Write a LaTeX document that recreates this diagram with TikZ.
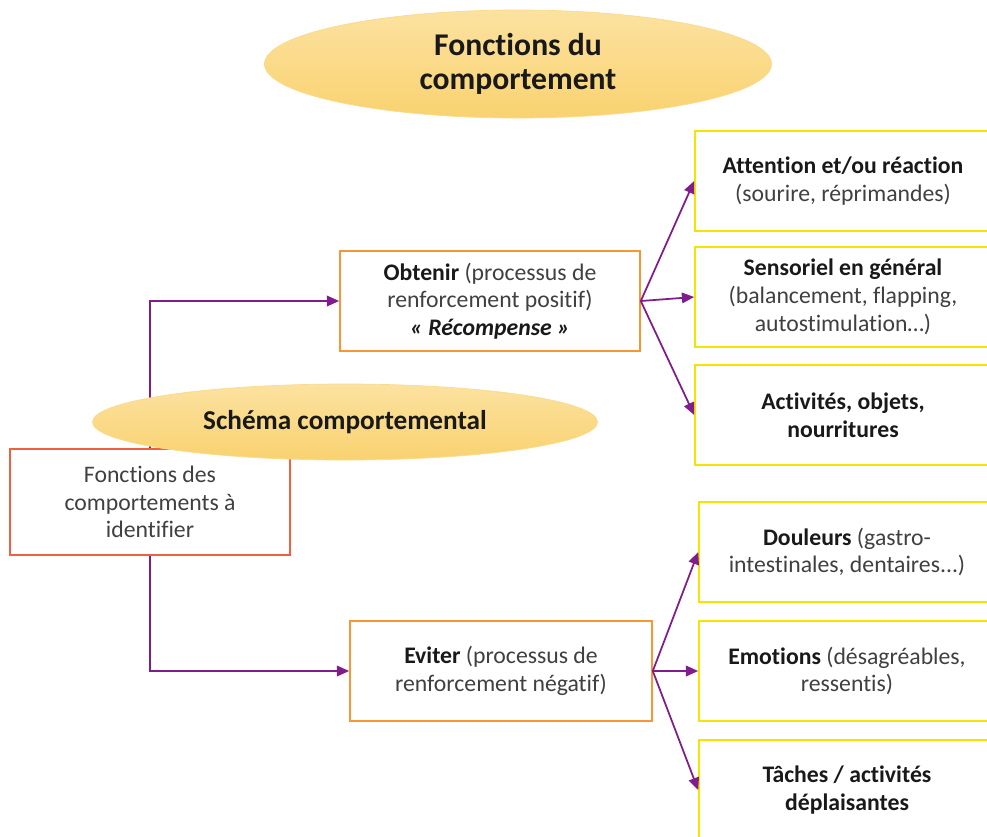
\documentclass[tikz,border=0pt]{standalone}
\usepackage{fontspec}
\setmainfont[Ligatures=NoCommon]{Carlito}
\usepackage{tikz}
\usetikzlibrary{positioning}
\usetikzlibrary{arrows,arrows.meta,shapes}
\usetikzlibrary{shapes.geometric}
\usetikzlibrary{calc}
\definecolor{flechecol}{RGB}{128,28,140}
\definecolor{ellcol}{RGB}{249,210,112}
\definecolor{ellhaut}{RGB}{252,226,160}
\definecolor{orangecol}{RGB}{247,150,50}
\definecolor{rougecol}{RGB}{240,96,60}
\definecolor{jaunecol}{RGB}{245,228,0}
\definecolor{textcol}{RGB}{64,64,64}
\tikzstyle{titre}=[ellipse,shading=axis,top color=ellhaut,bottom color=ellcol,draw=ellcol!80!white,inner sep=0pt,align=center,text=black!90]
\tikzstyle{fonctbox}=[rectangle,draw=rougecol,fill=white,line width=0.9pt,minimum width=56mm,minimum height=21.2mm,align=center,text=textcol,font=\fontsize{13.5}{15.8}\selectfont]
\tikzstyle{procbox}=[rectangle,draw=orangecol,fill=white,line width=0.9pt,minimum width=60mm,minimum height=20mm,align=center,text=textcol,font=\fontsize{13.5}{15.8}\selectfont]
\tikzstyle{exbox}=[rectangle,draw=jaunecol,fill=white,line width=0.9pt,minimum width=59.2mm,minimum height=20mm,align=center,text=textcol,font=\fontsize{13.5}{15.8}\selectfont]
\tikzstyle{edge} = [draw,line width=1pt,flechecol,-{Triangle[length=7pt,width=6pt]}]
\newcommand{\gras}[1]{\textbf{\color{black!90}#1}}

\begin{document}
\begin{tikzpicture}[x=0.2mm,y=-0.2mm]

    % picture frame
    \clip (0,0) rectangle (987,836);

    % title
    \node[titre,minimum width=101.4mm,minimum height=21.6mm,font=\fontsize{18}{19.5}\selectfont\bfseries] (fonctions) at (518,64) {Fonctions du\\comportement};

    % First we draw the boxes
    \node[fonctbox] (depart) at (150,502) {Fonctions des\\comportements à\\identifier};
    \node[procbox] (obtenir) at (490,301) {\gras{Obtenir} (processus de\\renforcement positif)\\\gras{\itshape « Récompense »}};
    \node[procbox,minimum width=60.4mm] (eviter) at (501,671) {\gras{Eviter} (processus de\\renforcement négatif)};

    \foreach \pos/\name/\label in {{(843,181)/attention/{\gras{Attention et/ou réaction}\\(sourire, réprimandes)}},
                                   {(843,297)/sensoriel/{\gras{Sensoriel en général}\\(balancement, flapping,\\autostimulation\dots)}},
                                   {(843,415)/activites/{\gras{Activités, objets,}\\\gras{nourritures}}},
                                   {(847,552)/douleurs/{\gras{Douleurs} (gastro-\\intestinales, dentaires...)}},
                                   {(847,671)/emotions/{\gras{Emotions} (désagréables,\\ressentis)}},
                                   {(847,790)/taches/{\gras{Tâches / activités}\\\gras{déplaisantes}}}}
        \node[exbox] (\name) at \pos {\label};

    % Connect boxes with arrows
    \path[edge] (depart.north) |- (obtenir.west);
    \path[edge] (depart.south) |- (eviter.west);
    \foreach \source/ \dest in {obtenir/attention, obtenir/sensoriel, obtenir/activites, eviter/douleurs, eviter/emotions, eviter/taches}
          \path[edge] (\source.east) -- (\dest.west);

    % second title on top of the lines
    \node[titre,minimum width=101mm,minimum height=15.2mm,font=\fontsize{15.5}{18.8}\selectfont\bfseries] (schema) at (345,422) {Schéma comportemental};

\end{tikzpicture}
\end{document}
